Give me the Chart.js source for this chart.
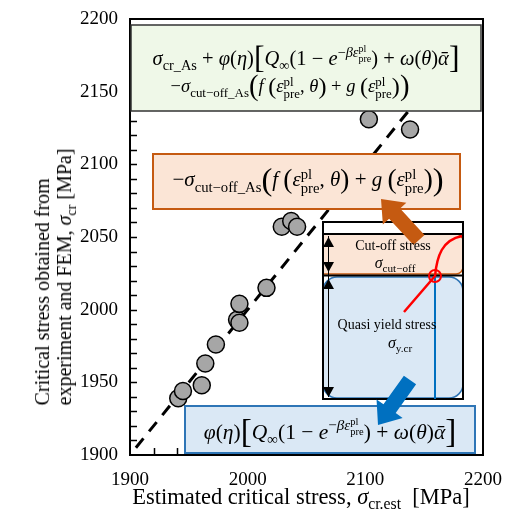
<!DOCTYPE html>
<html>
<head>
<meta charset="utf-8">
<script src="https://cdn.jsdelivr.net/npm/chart.js@4.4.1/dist/chart.umd.min.js"></script>
<style>
  body { margin: 0; background: #fff; }
  #wrap { position: relative; width: 506px; height: 511px; }
  .t { position: absolute; white-space: nowrap; font-family: "Liberation Serif", "DejaVu Serif", serif;
       color: #000; transform: translate(-50%, -50%); line-height: 1.1; }
  .t i { font-style: italic; }
  sub, sup { font-size: 0.7em; line-height: 0; }
  .ss { display: inline-block; vertical-align: -0.45em; font-size: 0.7em; line-height: 0.95; text-align: left; }
  .ss span { display: block; }
  .bg { font-size: 1.55em; line-height: 0; vertical-align: -0.1em; }
  .md { font-size: 1.3em; line-height: 0; vertical-align: -0.07em; }
  #ytitle { transform: translate(-50%, -50%) rotate(-90deg); text-align: left; line-height: 1.1; }
</style>
</head>
<body>
<div id="wrap">
  <canvas id="c" width="506" height="511"></canvas>

  <div class="t" style="left:306px;top:57px;font-size:20.5px">
    <i>σ</i><sub>cr_As</sub> + <i>φ</i>(<i>η</i>)<span class="bg">[</span><i>Q</i><sub>∞</sub>(1 − <i>e</i><sup>−<i>βε</i><span class="ss"><span>pl</span><span>pre</span></span></sup>) + <i>ω</i>(<i>θ</i>)<i>ᾱ</i><span class="bg">]</span>
  </div>
  <div class="t" style="left:290px;top:88px;font-size:18.5px">
    −<i>σ</i><sub>cut−off_As</sub><span class="bg">(</span><i>f</i> <span class="md">(</span><i>ε</i><span class="ss"><span>pl</span><span>pre</span></span>, <i>θ</i><span class="md">)</span> + <i>g</i> <span class="md">(</span><i>ε</i><span class="ss"><span>pl</span><span>pre</span></span><span class="md">)</span><span class="bg">)</span>
  </div>
  <div class="t" style="left:308px;top:182px;font-size:21px">
    −<i>σ</i><sub>cut−off_As</sub><span class="bg">(</span><i>f</i> <span class="md">(</span><i>ε</i><span class="ss"><span>pl</span><span>pre</span></span>, <i>θ</i><span class="md">)</span> + <i>g</i> <span class="md">(</span><i>ε</i><span class="ss"><span>pl</span><span>pre</span></span><span class="md">)</span><span class="bg">)</span>
  </div>
  <div class="t" style="left:330px;top:431px;font-size:21.5px">
    <i>φ</i>(<i>η</i>)<span class="bg">[</span><i>Q</i><sub>∞</sub>(1 − <i>e</i><sup>−<i>βε</i><span class="ss"><span>pl</span><span>pre</span></span></sup>) + <i>ω</i>(<i>θ</i>)<i>ᾱ</i><span class="bg">]</span>
  </div>

  <div class="t" style="left:393px;top:246px;font-size:14px">Cut-off stress</div>
  <div class="t" style="left:395px;top:263px;font-size:16px"><i>σ</i><sub>cut−off</sub></div>
  <div class="t" style="left:387px;top:325px;font-size:14px">Quasi yield stress</div>
  <div class="t" style="left:400px;top:343px;font-size:16px"><i>σ</i><sub>y.cr</sub></div>

  <div class="t" style="left:301px;top:497px;font-size:22.5px">Estimated critical stress, <i>σ</i><sub>cr.est</sub>&nbsp; [MPa]</div>
  <div class="t" id="ytitle" style="left:53px;top:277px;font-size:20px">Critical stress obtained from<br>experiment and FEM, <i>σ</i><sub>cr</sub> [MPa]</div>
</div>

<script>
// values
const estStress = [1941, 1945, 1961, 1964, 1973, 1991, 1993, 1993, 2016, 2029, 2037, 2042, 2103, 2138];
const crStress  = [1939, 1944, 1948, 1963, 1976, 1993, 1991, 2004, 2015, 2057, 2061, 2057, 2131, 2124];
const oneToOne  = [1905, 2180];
const xTickLabels = [1900, 2000, 2100, 2200];
const yTickLabels = [1900, 1950, 2000, 2050, 2100, 2150, 2200];

const points = estStress.map((x, i) => ({ x: x, y: crStress[i] }));
const refLine = oneToOne.map(v => ({ x: v, y: v }));

function blockArrow(ctx, x0, y0, x1, y1, shaftW, headW, headL, color) {
  const ang = Math.atan2(y1 - y0, x1 - x0);
  const len = Math.hypot(x1 - x0, y1 - y0);
  ctx.save();
  ctx.translate(x0, y0);
  ctx.rotate(ang);
  ctx.beginPath();
  ctx.moveTo(0, -shaftW / 2);
  ctx.lineTo(len - headL, -shaftW / 2);
  ctx.lineTo(len - headL, -headW / 2);
  ctx.lineTo(len, 0);
  ctx.lineTo(len - headL, headW / 2);
  ctx.lineTo(len - headL, shaftW / 2);
  ctx.lineTo(0, shaftW / 2);
  ctx.closePath();
  ctx.fillStyle = color;
  ctx.fill();
  ctx.restore();
}

function tri(ctx, x, tipY, up) {
  const h = 10, w = 11;
  ctx.beginPath();
  ctx.moveTo(x, tipY);
  ctx.lineTo(x - w / 2, tipY + (up ? h : -h));
  ctx.lineTo(x + w / 2, tipY + (up ? h : -h));
  ctx.closePath();
  ctx.fill();
}

const overlay = {
  id: 'overlay',
  afterDatasetsDraw(chart) {
    const ctx = chart.ctx;
    const a = chart.chartArea;
    const sx = chart.scales.x, sy = chart.scales.y;
    ctx.save();

    // inward minor ticks
    ctx.strokeStyle = '#000';
    ctx.lineWidth = 1.5;
    ctx.beginPath();
    for (let v = 1910; v < 2200; v += 10) {
      const py = Math.round(sy.getPixelForValue(v)) + 0.5;
      ctx.moveTo(a.left, py); ctx.lineTo(a.left + 7, py);
    }
    for (let v = 1920; v < 2200; v += 20) {
      const px = Math.round(sx.getPixelForValue(v)) + 0.5;
      ctx.moveTo(px, a.bottom); ctx.lineTo(px, a.bottom - 7);
    }
    ctx.stroke();

    // green formula box
    ctx.fillStyle = '#eff8e8';
    ctx.fillRect(a.left + 1, 25, a.right - a.left - 3, 86);
    ctx.strokeStyle = '#333';
    ctx.lineWidth = 1.5;
    ctx.strokeRect(a.left + 1, 25, a.right - a.left - 3, 86);

    // orange formula box
    ctx.fillStyle = '#fbe5d6';
    ctx.fillRect(153, 154, 307, 55);
    ctx.strokeStyle = '#c55a11';
    ctx.lineWidth = 2;
    ctx.strokeRect(153, 154, 307, 55);

    // blue formula box
    ctx.fillStyle = '#dae8f5';
    ctx.fillRect(185, 406, 290, 47);
    ctx.strokeStyle = '#2e75b6';
    ctx.strokeRect(185, 406, 290, 47);

    // inset diagram
    ctx.fillStyle = '#fff';
    ctx.fillRect(323, 222, 140, 177);
    ctx.beginPath();
    ctx.roundRect(323, 234, 140, 40, [0, 7, 7, 0]);
    ctx.fillStyle = '#fbe5d6'; ctx.fill();
    ctx.strokeStyle = '#c55a11'; ctx.lineWidth = 1.5; ctx.stroke();
    ctx.beginPath();
    ctx.roundRect(323, 277, 140, 121, 14);
    ctx.fillStyle = '#dae8f5'; ctx.fill();
    ctx.strokeStyle = '#2e75b6'; ctx.lineWidth = 1.5; ctx.stroke();

    ctx.strokeStyle = '#000';
    ctx.lineWidth = 2;
    ctx.strokeRect(323, 222, 140, 177);
    ctx.beginPath();
    ctx.moveTo(323, 234); ctx.lineTo(463, 234);
    ctx.moveTo(323, 275.5); ctx.lineTo(463, 275.5);
    ctx.stroke();
    ctx.lineWidth = 1;
    ctx.beginPath();
    ctx.moveTo(328.5, 236); ctx.lineTo(328.5, 397);
    ctx.stroke();
    ctx.fillStyle = '#000';
    tri(ctx, 328.5, 237, true);
    tri(ctx, 328.5, 272, false);
    tri(ctx, 328.5, 279, true);
    tri(ctx, 328.5, 397, false);

    ctx.strokeStyle = '#0070c0';
    ctx.lineWidth = 2;
    ctx.beginPath();
    ctx.moveTo(435, 277); ctx.lineTo(435, 399);
    ctx.stroke();

    ctx.strokeStyle = '#ff0000';
    ctx.lineWidth = 2.5;
    ctx.beginPath();
    ctx.moveTo(404, 312); ctx.lineTo(435, 276);
    ctx.bezierCurveTo(437, 256, 442, 240, 462, 236);
    ctx.stroke();
    ctx.lineWidth = 2;
    ctx.beginPath();
    ctx.arc(435, 276, 6, 0, Math.PI * 2);
    ctx.stroke();

    // arrows
    blockArrow(ctx, 419, 240, 381, 199, 15, 32, 20, '#c55a11');
    blockArrow(ctx, 410, 380, 378, 425, 15, 32, 20, '#0070c0');

    // top and right frame
    ctx.strokeStyle = '#000';
    ctx.lineWidth = 2;
    ctx.beginPath();
    ctx.moveTo(a.left, a.top); ctx.lineTo(a.right, a.top); ctx.lineTo(a.right, a.bottom);
    ctx.stroke();
    ctx.restore();
  }
};

new Chart(document.getElementById('c'), {
  type: 'scatter',
  data: {
    datasets: [{
      label: 'FEM / experiment',
      data: points,
      backgroundColor: '#a6a6a6',
      borderColor: '#000',
      borderWidth: 1.5,
      pointRadius: 8.5,
      order: 0
    }, {
      type: 'line',
      label: '1:1',
      data: refLine,
      borderColor: '#000',
      borderWidth: 3,
      borderDash: [12, 9],
      pointRadius: 0,
      fill: false,
      order: 1
    }]
  },
  options: {
    responsive: false,
    devicePixelRatio: 1,
    animation: false,
    layout: { padding: { top: 19, right: 23, left: 0, bottom: 0 } },
    plugins: { legend: { display: false }, tooltip: { enabled: false } },
    scales: {
      x: {
        type: 'linear', min: 1900, max: 2200,
        afterFit(scale) { scale.height = 56; scale.paddingLeft = 0; scale.paddingRight = 0; },
        grid: { display: false, drawTicks: false },
        border: { display: true, color: '#000', width: 2 },
        ticks: {
          stepSize: 20, padding: 14, maxRotation: 0, autoSkip: false,
          color: '#000', font: { family: 'Liberation Serif', size: 19 },
          callback: v => xTickLabels.includes(v) ? String(v) : ''
        }
      },
      y: {
        type: 'linear', min: 1900, max: 2200,
        afterFit(scale) { scale.width = 130; scale.paddingTop = 0; scale.paddingBottom = 0; },
        grid: { display: false, drawTicks: false },
        border: { display: true, color: '#000', width: 2 },
        ticks: {
          stepSize: 10, padding: 12, autoSkip: false,
          color: '#000', font: { family: 'Liberation Serif', size: 19 },
          callback: v => yTickLabels.includes(v) ? String(v) : ''
        }
      }
    }
  },
  plugins: [overlay]
});
</script>
</body>
</html>
